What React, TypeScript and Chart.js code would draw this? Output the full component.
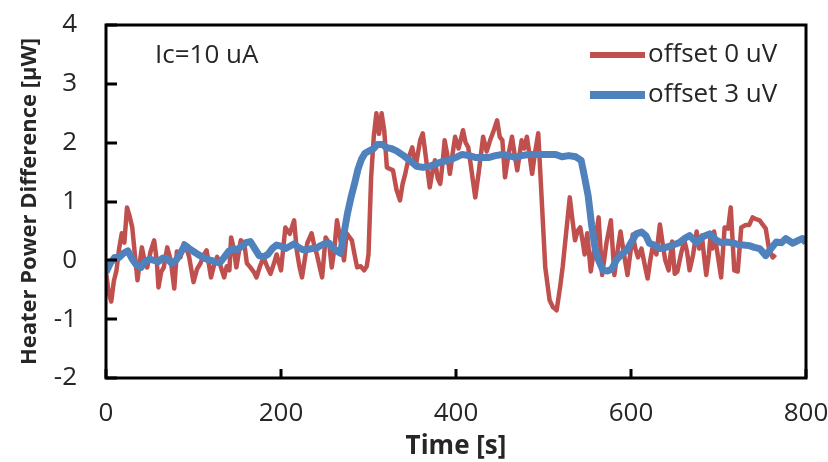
import React, { useEffect, useRef } from 'react';
import { Chart, registerables } from 'chart.js';

Chart.register(...registerables);

// ---- data ----
const redTimes = [
  0, 3, 6, 9, 12, 15, 18, 21, 24, 27, 30, 33, 36, 38, 41, 44, 47, 51, 55, 58,
  60, 63, 66, 70, 74, 78, 81, 85, 89, 92, 95, 100, 104, 108, 112, 115, 120, 124, 127, 131,
  135, 138, 141, 143, 146, 149, 154, 158, 161, 165, 169, 172, 176, 180, 184, 188, 192, 195, 200, 205,
  210, 215, 218, 221, 224, 227, 230, 235, 238, 241, 244, 247, 251, 255, 258, 261, 264, 268, 272, 275,
  281, 284, 287, 291, 295, 298, 300, 303, 306, 309, 312, 315, 318, 321, 325, 328, 332, 336, 339, 342,
  346, 350, 354, 359, 362, 366, 370, 373, 376, 379, 382, 385, 387, 390, 393, 396, 399, 403, 408, 411,
  414, 418, 422, 426, 431, 435, 439, 443, 447, 450, 453, 456, 460, 464, 467, 470, 475, 478, 481, 484,
  487, 490, 494, 498, 502, 507, 511, 515, 519, 522, 525, 530, 533, 536, 539, 542, 545, 547, 550, 554,
  558, 563, 567, 572, 577, 581, 585, 588, 592, 596, 602, 605, 608, 612, 616, 619, 622, 625, 629, 633,
  636, 639, 643, 647, 650, 653, 657, 661, 664, 667, 671, 675, 678, 681, 684, 686, 689, 691, 693, 695,
  699, 703, 707, 711, 714, 718, 722, 726, 731, 735, 739, 743, 747, 751, 754, 758, 762, 765,
];
const redValues = [
  -0.2, -0.55, -0.7, -0.35, -0.17, 0.2, 0.46, 0.3, 0.9, 0.75, 0.56, 0.1, -0.34, -0.1, 0.22, 0.0, -0.12, 0.15, 0.34, 0.0,
  -0.46, -0.2, -0.12, 0.22, 0.0, -0.48, 0.15, 0.05, 0.29, 0.2, 0.06, -0.37, -0.15, -0.05, 0.1, 0.17, -0.29, -0.05, 0.06, -0.1,
  -0.29, -0.1, -0.17, 0.39, 0.2, -0.12, 0.34, 0.29, -0.05, -0.12, -0.2, -0.29, -0.1, 0.05, -0.1, -0.23, -0.05, 0.1, -0.17, 0.56,
  0.45, 0.68, 0.17, -0.1, -0.29, 0.0, 0.29, 0.46, 0.25, 0.1, -0.1, -0.29, 0.39, 0.29, -0.12, 0.2, 0.68, 0.34, 0.0, 0.46,
  0.34, 0.1, -0.12, -0.1, -0.17, -0.1, 0.1, 1.41, 2.1, 2.5, 2.15, 2.5, 2.2, 1.58, 1.55, 1.53, 1.2, 1.02, 1.3, 1.47,
  1.75, 1.92, 1.6, 2.04, 2.16, 1.7, 1.24, 1.5, 1.7, 1.4, 1.3, 1.7, 2.04, 1.8, 1.47, 1.8, 2.1, 1.9, 2.21, 2.0,
  1.92, 1.5, 1.07, 1.5, 2.1, 1.85, 2.04, 2.2, 2.38, 2.1, 2.04, 1.41, 1.8, 2.1, 1.8, 1.53, 2.04, 1.9, 2.1, 1.8,
  1.47, 1.8, 2.16, 1.02, -0.12, -0.68, -0.8, -0.85, -0.45, -0.1, 0.34, 1.07, 0.7, 0.34, 0.5, 0.56, 0.3, 0.1, 0.46, -0.19,
  0.2, 0.73, -0.25, 0.3, 0.68, -0.25, 0.2, 0.49, 0.1, -0.25, 0.44, 0.2, 0.05, 0.2, -0.1, -0.31, 0.0, 0.25, 0.1, 0.61,
  0.3, 0.01, -0.17, 0.32, -0.23, -0.19, 0.1, 0.34, 0.15, -0.17, 0.1, 0.49, 0.2, 0.42, 0.0, -0.25, 0.1, 0.44, 0.2, 0.49,
  0.1, -0.29, 0.56, 0.54, 0.9, -0.17, -0.19, 0.56, 0.6, 0.6, 0.73, 0.7, 0.68, 0.6, 0.54, 0.17, 0.05, 0.1,
];

const blueTimes = [
  0, 5, 10, 15, 20, 25, 30, 35, 40, 45, 50, 55, 60, 65, 70, 75, 80, 85, 90, 95,
  100, 105, 110, 115, 120, 125, 130, 135, 140, 145, 150, 155, 160, 165, 170, 175, 180, 185, 190, 195,
  200, 205, 210, 215, 220, 225, 230, 235, 240, 245, 250, 255, 260, 265, 268, 272, 276, 280, 284, 288,
  292, 296, 302, 306, 310, 316, 320, 326, 332, 340, 347, 355, 362, 370, 377, 385, 392, 400, 407, 415,
  422, 430, 438, 445, 453, 460, 468, 475, 483, 490, 498, 506, 514, 521, 529, 537, 543, 547, 551, 555,
  559, 563, 568, 573, 578, 583, 589, 595, 600, 606, 612, 617, 621, 628, 633, 640, 648, 655, 662, 667,
  675, 682, 690, 697, 703, 709, 716, 722, 728, 735, 741, 747, 754, 760, 766, 772, 777, 782, 785, 790,
  796, 800,
];
const blueValues = [
  -0.2, -0.05, 0.05, 0.05, 0.12, 0.16, 0.02, -0.08, -0.12, -0.02, 0.02, 0.0, -0.02, 0.04, 0.03, -0.05, 0.0, 0.12, 0.26, 0.2,
  0.15, 0.1, 0.06, 0.02, 0.0, -0.03, -0.04, 0.05, 0.15, 0.2, 0.18, 0.24, 0.3, 0.32, 0.2, 0.08, 0.06, 0.1, 0.2, 0.26,
  0.24, 0.2, 0.24, 0.28, 0.22, 0.18, 0.18, 0.2, 0.2, 0.25, 0.28, 0.29, 0.2, 0.15, 0.12, 0.46, 0.8, 1.07, 1.3, 1.55,
  1.72, 1.82, 1.87, 1.9, 1.97, 1.97, 1.92, 1.9, 1.86, 1.78, 1.7, 1.6, 1.58, 1.6, 1.64, 1.68, 1.7, 1.75, 1.8, 1.78,
  1.75, 1.75, 1.75, 1.78, 1.8, 1.78, 1.75, 1.78, 1.8, 1.8, 1.8, 1.8, 1.8, 1.76, 1.78, 1.76, 1.7, 1.41, 1.1, 0.6,
  0.2, 0.0, -0.17, -0.18, -0.15, 0.0, 0.1, 0.17, 0.3, 0.45, 0.48, 0.42, 0.29, 0.25, 0.2, 0.22, 0.26, 0.3, 0.38, 0.42,
  0.3, 0.4, 0.45, 0.35, 0.3, 0.31, 0.3, 0.27, 0.26, 0.25, 0.22, 0.2, 0.08, 0.2, 0.31, 0.3, 0.37, 0.32, 0.29, 0.33,
  0.37, 0.3,
];

const xTicks = [0, 200, 400, 600, 800];
const yTicks = [-2, -1, 0, 1, 2, 3, 4];
const seriesNames = ['offset 0 uV', 'offset 3 uV'];
const seriesColors = ['#C0504D', '#4F81BD'];
const annotationText = 'Ic=10 uA';
const xTitle = 'Time [s]';
const yTitle = 'Heater Power Difference [\u03bcW]';

const FONT = "'Open Sans', 'DejaVu Sans', sans-serif";
const TEXT_COLOR = '#262626';

const framePlugin = {
  id: 'frameAndLegend',
  afterDatasetsDraw(chart: any) {
    const { ctx, chartArea: a, scales } = chart;
    ctx.save();
    ctx.strokeStyle = '#000';
    ctx.lineWidth = 3;
    ctx.strokeRect(a.left, a.top, a.right - a.left, a.bottom - a.top);
    ctx.beginPath();
    for (const v of yTicks) {
      const y = Math.round(scales.y.getPixelForValue(v));
      ctx.moveTo(a.left, y);
      ctx.lineTo(a.left + 11, y);
    }
    for (const v of xTicks) {
      const x = Math.round(scales.x.getPixelForValue(v));
      ctx.moveTo(x, a.bottom);
      ctx.lineTo(x, a.bottom - 9);
    }
    ctx.stroke();

    // annotation
    ctx.fillStyle = TEXT_COLOR;
    ctx.font = `26px ${FONT}`;
    ctx.textBaseline = 'middle';
    ctx.textAlign = 'left';
    ctx.fillText(annotationText, a.left + 49, a.top + 31);

    // legend
    const rows = [a.top + 30, a.top + 70];
    const widths = [6, 8];
    seriesNames.forEach((name, i) => {
      ctx.strokeStyle = seriesColors[i];
      ctx.lineWidth = widths[i];
      ctx.lineCap = 'butt';
      ctx.beginPath();
      ctx.moveTo(a.right - 216, rows[i]);
      ctx.lineTo(a.right - 161, rows[i]);
      ctx.stroke();
      ctx.fillStyle = TEXT_COLOR;
      ctx.fillText(name, a.right - 158, rows[i]);
    });
    ctx.restore();
  },
};

const zeroPad = (scale: any) => {
  scale.paddingTop = 0;
  scale.paddingBottom = 0;
  scale.paddingLeft = 0;
  scale.paddingRight = 0;
};

export default function App() {
  const canvasRef = useRef<HTMLCanvasElement | null>(null);

  useEffect(() => {
    document.body.style.margin = '0';
    const canvas = canvasRef.current;
    if (!canvas) return;
    const redData = redTimes.map((t, i) => ({ x: t, y: redValues[i] }));
    const blueData = blueTimes.map((t, i) => ({ x: t, y: blueValues[i] }));
    const chart = new Chart(canvas, {
      type: 'line',
      data: {
        datasets: [
          {
            label: seriesNames[0],
            data: redData,
            borderColor: seriesColors[0],
            backgroundColor: seriesColors[0],
            borderWidth: 4.5,
            pointRadius: 0,
            tension: 0,
            borderJoinStyle: 'round',
            order: 1,
          },
          {
            label: seriesNames[1],
            data: blueData,
            borderColor: seriesColors[1],
            backgroundColor: seriesColors[1],
            borderWidth: 7,
            pointRadius: 0,
            tension: 0,
            borderJoinStyle: 'round',
            order: 0,
          },
        ],
      },
      options: {
        responsive: false,
        animation: false,
        layout: { padding: { left: 0, top: 25, right: 22, bottom: 0 } },
        plugins: {
          legend: { display: false },
          tooltip: { enabled: false },
        },
        scales: {
          x: {
            type: 'linear',
            min: 0,
            max: 800,
            afterBuildTicks: (scale: any) => {
              scale.ticks = xTicks.map((v) => ({ value: v }));
            },
            afterFit: (scale: any) => {
              scale.height = 84;
              zeroPad(scale);
            },
            grid: { display: false, drawTicks: false },
            border: { display: false },
            ticks: {
              padding: 20,
              maxRotation: 0,
              color: TEXT_COLOR,
              font: { family: FONT, size: 26 },
            },
            title: {
              display: true,
              text: xTitle,
              color: TEXT_COLOR,
              font: { family: FONT, size: 26, weight: 'bold' },
              padding: { top: 0, bottom: 0 },
            },
          },
          y: {
            type: 'linear',
            min: -2,
            max: 4,
            afterBuildTicks: (scale: any) => {
              scale.ticks = yTicks.map((v) => ({ value: v }));
            },
            afterFit: (scale: any) => {
              scale.width = 106;
              zeroPad(scale);
            },
            grid: { display: false, drawTicks: false },
            border: { display: false },
            ticks: {
              padding: 29,
              color: TEXT_COLOR,
              font: { family: FONT, size: 26 },
            },
            title: {
              display: true,
              text: yTitle,
              color: TEXT_COLOR,
              font: { family: FONT, size: 22, weight: 'bold' },
              padding: { top: 17, bottom: 0 },
            },
          },
        },
      },
      plugins: [framePlugin],
    } as any);
    return () => chart.destroy();
  }, []);

  return (
    <div style={{ width: 828, height: 462, background: '#fff' }}>
      <canvas ref={canvasRef} width={828} height={462} style={{ display: 'block' }} />
    </div>
  );
}
